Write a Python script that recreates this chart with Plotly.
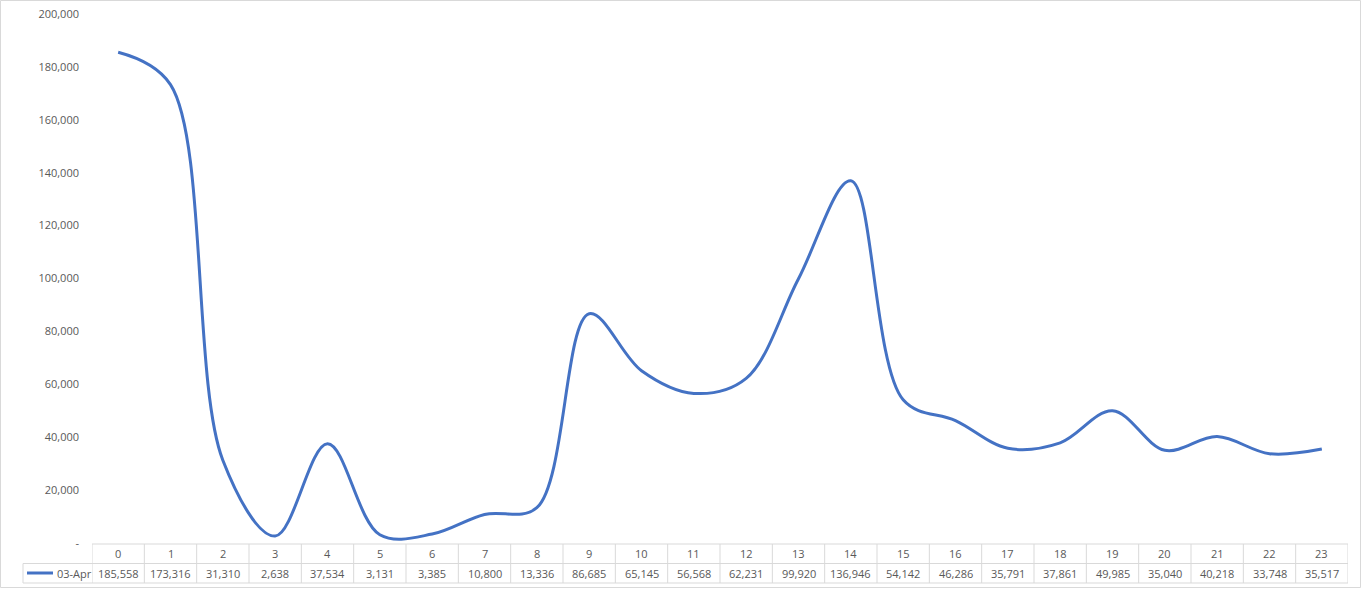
import plotly.graph_objects as go

hours = list(range(24))
series_name = "03-Apr"
values = [185558, 173316, 31310, 2638, 37534, 3131, 3385, 10800, 13336, 86685,
          65145, 56568, 62231, 99920, 136946, 54142, 46286, 35791, 37861, 49985,
          35040, 40218, 33748, 35517]
y_ticks = [0, 20000, 40000, 60000, 80000, 100000, 120000, 140000, 160000, 180000, 200000]

LINE_COLOR = "#4472C4"
TEXT_COLOR = "#595959"
BORDER = "#d9d9d9"
FONT = "Open Sans"

W, H = 1362, 589
L, R, T, B = 92, 14, 14, 46
PW, PH = W - L - R, H - T - B


def px_x(px):
    return (px - L) / PW


def px_y(py):
    return (H - B - py) / PH


fig = go.Figure()
fig.add_trace(go.Scatter(
    x=hours, y=values,
    mode="lines",
    name=series_name,
    line=dict(color=LINE_COLOR, width=3, shape="spline", smoothing=1),
    hovertemplate="%{x}: %{y:,.0f}<extra></extra>",
))

# data table under the plot
row_top, row_mid, row_bot = px_y(544), px_y(563.5), px_y(583)
shapes = []
for i in range(len(hours) + 1):
    shapes.append(dict(type="line", xref="x", yref="paper", x0=i - 0.5, x1=i - 0.5,
                       y0=row_top, y1=row_bot, line=dict(color=BORDER, width=1)))
shapes.append(dict(type="line", xref="paper", yref="paper", x0=0, x1=1,
                   y0=row_top, y1=row_top, line=dict(color=BORDER, width=1)))
shapes.append(dict(type="line", xref="paper", yref="paper", x0=px_x(23), x1=1,
                   y0=row_mid, y1=row_mid, line=dict(color=BORDER, width=1)))
shapes.append(dict(type="line", xref="paper", yref="paper", x0=px_x(23), x1=1,
                   y0=row_bot, y1=row_bot, line=dict(color=BORDER, width=1)))
shapes.append(dict(type="line", xref="paper", yref="paper", x0=px_x(23), x1=px_x(23),
                   y0=row_mid, y1=row_bot, line=dict(color=BORDER, width=1)))
# legend key inside the table
shapes.append(dict(type="line", xref="paper", yref="paper", x0=px_x(27), x1=px_x(53),
                   y0=px_y(573), y1=px_y(573), line=dict(color=LINE_COLOR, width=3)))
# chart border
shapes.append(dict(type="rect", xref="paper", yref="paper", x0=px_x(0.5), x1=px_x(W - 1.5),
                   y0=px_y(H - 1.5), y1=px_y(0.5), line=dict(color=BORDER, width=1)))

cell_font = dict(size=11, color=TEXT_COLOR, family=FONT)
annotations = []
for h, v in zip(hours, values):
    annotations.append(dict(x=h, y=px_y(553.5), xref="x", yref="paper", text=str(h),
                            yanchor="middle", showarrow=False, font=cell_font))
    annotations.append(dict(x=h, y=px_y(573), xref="x", yref="paper", text=f"{v:,}",
                            yanchor="middle", showarrow=False, font=cell_font))
annotations.append(dict(x=px_x(55), y=px_y(573), xref="paper", yref="paper", text=series_name,
                        xanchor="left", yanchor="middle", showarrow=False, font=cell_font))

fig.update_layout(
    width=W, height=H,
    margin=dict(l=L, r=R, t=T, b=B, autoexpand=False),
    plot_bgcolor="white", paper_bgcolor="white",
    showlegend=False,
    font=dict(family=FONT, size=11, color=TEXT_COLOR),
    xaxis=dict(range=[-0.5, 23.5], showgrid=False, zeroline=False, showticklabels=False,
               showline=False, fixedrange=True, automargin=False),
    yaxis=dict(range=[0, 200000], showgrid=False, zeroline=False, showline=False,
               tickmode="array", tickvals=y_ticks, automargin=False,
               ticktext=["-" if t == 0 else f"{t:,}" for t in y_ticks],
               ticklabelstandoff=12, tickfont=dict(size=11, color=TEXT_COLOR, family=FONT)),
    shapes=shapes,
    annotations=annotations,
)

# pin the fixed-size figure to the window corner
pin = ("document.body.style.margin='0';document.body.style.overflow='hidden';"
       "var g=document.getElementById('{plot_id}');"
       "g.style.position='fixed';g.style.left='0';g.style.top='0';")
fig.write_html("out.html", config={"displayModeBar": False}, post_script=pin)
